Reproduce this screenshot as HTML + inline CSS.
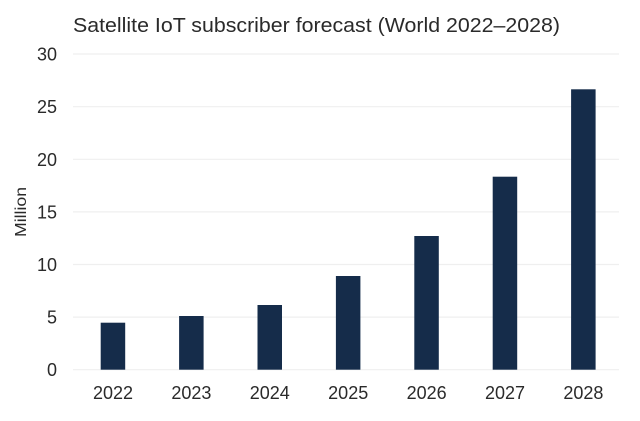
<!DOCTYPE html>
<html><head><meta charset="utf-8"><style>
html,body{margin:0;padding:0;background:#fff;}
svg{display:block;}
text{font-family:"Liberation Sans",Arial,sans-serif;fill:#2a2a2a;}
</style></head><body>
<svg width="640" height="421" viewBox="0 0 640 421" xmlns="http://www.w3.org/2000/svg">
<rect width="640" height="421" fill="#fff"/>
<text x="73" y="32" font-size="20" textLength="487" lengthAdjust="spacingAndGlyphs">Satellite IoT subscriber forecast (World 2022–2028)</text>
<g stroke="#efefef" stroke-width="1.2">
<line x1="73" x2="619" y1="54" y2="54"/>
<line x1="73" x2="619" y1="106.7" y2="106.7"/>
<line x1="73" x2="619" y1="159.3" y2="159.3"/>
<line x1="73" x2="619" y1="211.9" y2="211.9"/>
<line x1="73" x2="619" y1="264.5" y2="264.5"/>
<line x1="73" x2="619" y1="317.1" y2="317.1"/>
<line x1="73" x2="619" y1="369.7" y2="369.7"/>
</g>
<g font-size="18" text-anchor="end">
<text x="57" y="60.5">30</text>
<text x="57" y="113.2">25</text>
<text x="57" y="165.8">20</text>
<text x="57" y="218.4">15</text>
<text x="57" y="271">10</text>
<text x="57" y="323.6">5</text>
<text x="57" y="376.2">0</text>
</g>
<text transform="translate(26,212) rotate(-90)" font-size="16" text-anchor="middle" textLength="50" lengthAdjust="spacingAndGlyphs">Million</text>
<g fill="#152c4a">
<rect x="100.7" y="322.7" width="24.5" height="47"/>
<rect x="179.1" y="316" width="24.5" height="53.7"/>
<rect x="257.5" y="305" width="24.5" height="64.7"/>
<rect x="335.9" y="276" width="24.5" height="93.7"/>
<rect x="414.3" y="236" width="24.5" height="133.7"/>
<rect x="492.7" y="176.7" width="24.5" height="193"/>
<rect x="571.1" y="89.3" width="24.5" height="280.4"/>
</g>
<g font-size="18" text-anchor="middle">
<text x="113" y="399">2022</text>
<text x="191.4" y="399">2023</text>
<text x="269.8" y="399">2024</text>
<text x="348.2" y="399">2025</text>
<text x="426.6" y="399">2026</text>
<text x="505" y="399">2027</text>
<text x="583.4" y="399">2028</text>
</g>
</svg>
</body></html>
